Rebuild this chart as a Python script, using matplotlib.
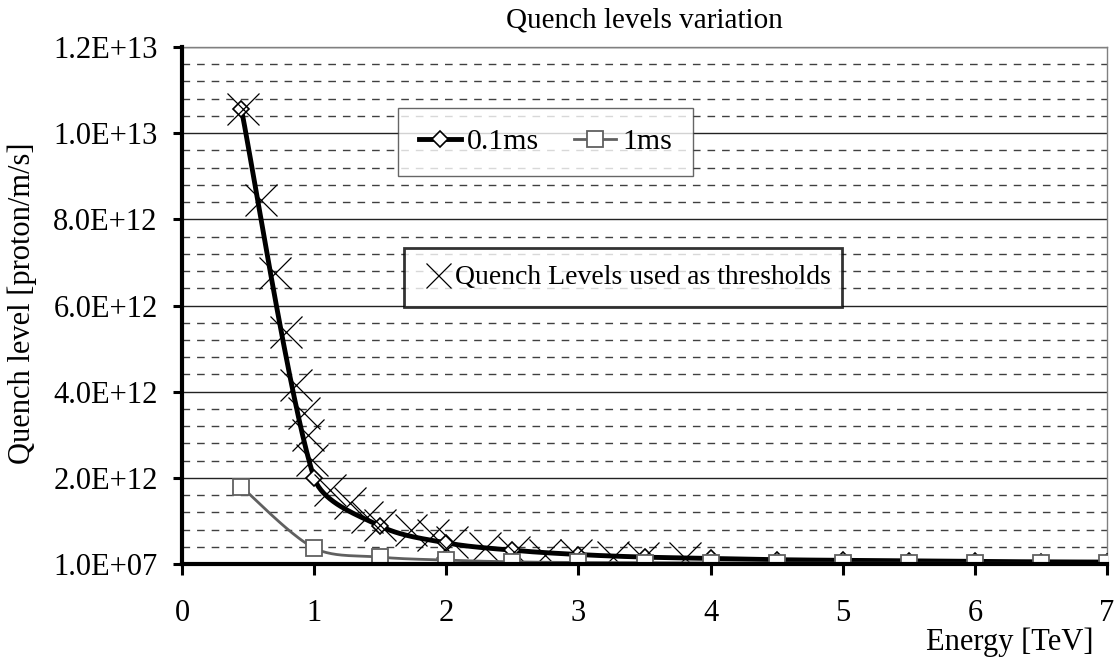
import numpy as np
import matplotlib
matplotlib.use('Agg')
import matplotlib.pyplot as plt
from matplotlib.lines import Line2D

plt.rcParams['font.family'] = ['Liberation Serif', 'DejaVu Serif']

# ---------------- data ----------------
energy = [0.45, 1.0, 1.5, 2.0, 2.5, 3.0, 3.5, 4.0, 4.5, 5.0, 5.5, 6.0, 6.5, 7.0]
q_01ms = [10.55e12, 2.0e12, 0.88e12, 0.49e12, 0.32e12, 0.22e12, 0.16e12, 0.13e12,
          0.10e12, 0.085e12, 0.07e12, 0.06e12, 0.05e12, 0.045e12]
q_1ms = [1.79e12, 0.37e12, 0.16e12, 0.09e12, 0.05e12, 0.035e12, 0.03e12, 0.025e12,
         0.022e12, 0.02e12, 0.018e12, 0.016e12, 0.015e12, 0.014e12]

thresh_energy = [0.46, 0.60, 0.70, 0.79, 0.86, 0.92, 0.95, 0.98, 1.12, 1.27, 1.40,
                 1.50, 1.73, 1.90, 2.04, 2.29, 2.51, 2.75, 2.98, 3.26, 3.49, 3.81]
thresh_q = [10.55e12, 8.45e12, 6.75e12, 5.38e12, 4.15e12, 3.50e12, 2.99e12, 2.41e12,
            1.72e12, 1.42e12, 1.09e12, 0.90e12, 0.79e12, 0.67e12, 0.51e12, 0.37e12,
            0.28e12, 0.21e12, 0.21e12, 0.16e12, 0.14e12, 0.14e12]

x_ticks = [0, 1, 2, 3, 4, 5, 6, 7]
y_ticks = [1e7, 2e12, 4e12, 6e12, 8e12, 1e13, 1.2e13]
y_tick_labels = ['1.0E+07', '2.0E+12', '4.0E+12', '6.0E+12', '8.0E+12', '1.0E+13', '1.2E+13']
y_minor = [1e7 + 0.4e12 * k for k in range(1, 30) if k % 5 != 0]

labels = ['0.1ms', '1ms']
thresh_label = 'Quench Levels used as thresholds'
title = 'Quench levels variation'
xlabel = 'Energy [TeV]'
ylabel = 'Quench level [proton/m/s]'


def smooth(ax, x, y, n=40):
    """Excel-like smoothed line: Bezier segments built in display space."""
    P = ax.transData.transform(np.column_stack([x, y]))
    m = len(P)
    t = np.linspace(0, 1, n)[:, None]
    out = []
    for i in range(m - 1):
        p0, p3 = P[i], P[i + 1]
        dseg = np.hypot(*(p3 - p0))
        prev = P[i - 1] if i > 0 else P[i]
        nxt = P[i + 2] if i + 2 < m else P[i + 1]
        t0 = (p3 - prev) / 6.0
        if i > 0:
            dl = np.hypot(*(P[i] - P[i - 1]))
            t0 = t0 * min(1.0, 2 * dseg / (dl + dseg))
        t1 = (nxt - p0) / 6.0
        if i + 2 < m:
            dr = np.hypot(*(P[i + 2] - P[i + 1]))
            t1 = t1 * min(1.0, 2 * dseg / (dseg + dr))
        c1, c2 = p0 + t0, p3 - t1
        seg = ((1 - t) ** 3) * p0 + 3 * ((1 - t) ** 2) * t * c1 \
            + 3 * (1 - t) * t ** 2 * c2 + t ** 3 * p3
        out.append(seg if i == 0 else seg[1:])
    pts = ax.transData.inverted().transform(np.vstack(out))
    return pts[:, 0], pts[:, 1]


W, H = 1117, 658
fig = plt.figure(figsize=(W / 100, H / 100), dpi=100)
ax = fig.add_axes([182 / W, 1 - 564 / H, (1107 - 182) / W, (564 - 47) / H])

ax.set_xlim(0, 7)
ax.set_ylim(1e7, 1.2e13)

# grid
for v in y_minor:
    ax.axhline(v, color='#404040', lw=1.0, dashes=(5.5, 5.0), zorder=1)
for v in y_ticks[1:]:
    ax.axhline(v, color='#222222', lw=1.0, zorder=1)

# series
sx, sy = smooth(ax, energy, q_01ms)
ax.plot(sx, sy, color='black', lw=3.5, zorder=3, solid_capstyle='round')
ax.plot(energy, q_01ms, ls='none', marker='D', ms=8, mfc='white', mec='black',
        mew=1.2, zorder=3)

ax.plot(thresh_energy, thresh_q, ls='none', marker='x', ms=23, mec='black',
        mew=0.9, zorder=4)

sx2, sy2 = smooth(ax, energy, q_1ms)
ax.plot(sx2, sy2, color='#606060', lw=2.0, zorder=5)
ax.plot(energy, q_1ms, ls='none', marker='s', ms=12, mfc='white', mec='#606060',
        mew=1.3, zorder=5)

# axes styling
ax.set_xticks(x_ticks)
ax.set_xticklabels([str(v) for v in x_ticks])
ax.set_yticks(y_ticks)
ax.set_yticklabels(y_tick_labels)
ax.tick_params(axis='x', direction='out', length=8, width=2.2, pad=17, labelsize=22)
ax.tick_params(axis='y', direction='out', length=6.5, width=2.2, pad=11, labelsize=22)

for s in ['left', 'bottom']:
    ax.spines[s].set_linewidth(3.0)
    ax.spines[s].set_color('black')
    ax.spines[s].set_zorder(6)
for s in ['top', 'right']:
    ax.spines[s].set_linewidth(1.0)
    ax.spines[s].set_color('#808080')

fig.text((182 + 1107) / 2 / W, 1 - 20 / H, title, ha='center', va='center', fontsize=21)
fig.text(1093 / W, 1 - 642 / H, xlabel, ha='right', va='center', fontsize=22)
fig.text(22 / W, 1 - 303 / H, ylabel, ha='center', va='center', rotation=90, fontsize=22)

# legend 1
h1 = Line2D([], [], color='black', lw=3.5, marker='D', ms=8, mfc='white', mec='black', mew=1.2)
h2 = Line2D([], [], color='#606060', lw=2.0, marker='s', ms=12, mfc='white', mec='#606060', mew=1.3)
leg1 = fig.legend([h1, h2], labels, loc='center', ncol=2, mode='expand',
                  bbox_to_anchor=(398 / W, 1 - 181 / H, (693 - 398) / W, 78 / H),
                  borderaxespad=0, fontsize=21.5, frameon=True, fancybox=False,
                  edgecolor='#404040', borderpad=0.7, handlelength=1.4,
                  handletextpad=0.2, columnspacing=1.0)
leg1.get_frame().set_linewidth(1.0)

# legend 2
h3 = Line2D([], [], ls='none', marker='x', ms=18, mec='black', mew=0.9)
leg2 = fig.legend([h3], [thresh_label], loc='center', mode='expand',
                  bbox_to_anchor=(404 / W, 1 - 313 / H, (842 - 404) / W, 71 / H),
                  borderaxespad=0, fontsize=20, frameon=True, fancybox=False,
                  edgecolor='black', borderpad=0.6, handlelength=1.25,
                  handletextpad=0.0)
leg2.get_frame().set_linewidth(2.0)

fig.savefig('out.png', dpi=100)
